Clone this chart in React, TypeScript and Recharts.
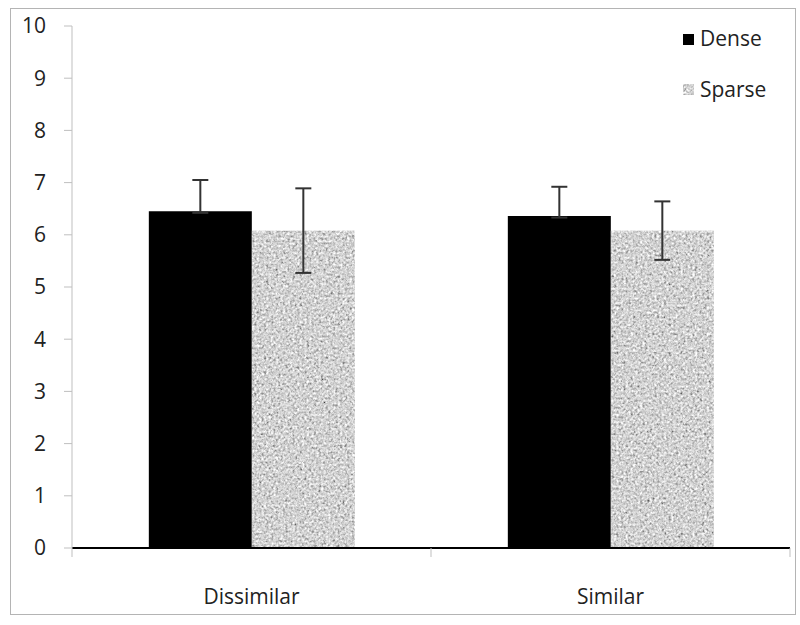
import { BarChart, Bar, XAxis, YAxis, ErrorBar } from 'recharts';

const categories = ['Dissimilar', 'Similar'];
const denseMeans = [6.45, 6.36];
const denseErrors = [0.6, 0.56];
const sparseMeans = [6.08, 6.08];
const sparseErrors = [0.81, 0.56];
const yTicks = [0, 1, 2, 3, 4, 5, 6, 7, 8, 9, 10];

// dense error bar only shows above the bar; the tiny lower end sits just inside the black bar
const denseLowerHidden = 0.03;

const chartData = categories.map((name, i) => ({
  name,
  Dense: denseMeans[i],
  denseErr: [denseLowerHidden, denseErrors[i]],
  Sparse: sparseMeans[i],
  sparseErr: sparseErrors[i],
}));

const FONT = '"Open Sans", "Noto Sans", sans-serif';

function NoiseBar(props: any) {
  const { x, y, width, height } = props;
  if (!height || height <= 0) return null;
  return <rect x={x} y={y} width={width} height={height} fill="#b0b0b0" filter="url(#speckle)" />;
}

function CategoryTick(props: any) {
  const { x, y, payload, index, visibleTicksCount } = props;
  const half = payload?.offset || 179.5;
  return (
    <g>
      <line x1={x - half} y1={y - 8} x2={x - half} y2={y + 1} stroke="#bfbfbf" strokeWidth={1} />
      {index === visibleTicksCount - 1 && (
        <line x1={x + half} y1={y - 8} x2={x + half} y2={y + 1} stroke="#bfbfbf" strokeWidth={1} />
      )}
      <text x={x} y={y + 48} textAnchor="middle" fill="#222" fontSize={21} fontFamily={FONT}>
        {payload.value}
      </text>
    </g>
  );
}

export default function App() {
  return (
    <div style={{ position: 'absolute', left: 0, top: 0, width: 800, height: 625, background: '#fff' }}>
      <BarChart
        width={800}
        height={625}
        data={chartData}
        margin={{ top: 26, right: 10, left: 0, bottom: 27 }}
        barCategoryGap="21.4%"
        barGap={0}
      >
        <defs>
          <filter id="speckle" x="0" y="0" width="100%" height="100%">
            <feTurbulence type="fractalNoise" baseFrequency="0.42" numOctaves="2" seed="7" result="n" />
            <feColorMatrix
              in="n"
              type="matrix"
              values="0.33 0.33 0.33 0 0  0.33 0.33 0.33 0 0  0.33 0.33 0.33 0 0  0 0 0 0 1"
              result="g"
            />
            <feComponentTransfer in="g" result="c">
              <feFuncR type="linear" slope="2.1" intercept="-0.4" />
              <feFuncG type="linear" slope="2.1" intercept="-0.4" />
              <feFuncB type="linear" slope="2.1" intercept="-0.4" />
            </feComponentTransfer>
            <feComposite in="c" in2="SourceGraphic" operator="in" />
          </filter>
        </defs>
        <XAxis
          dataKey="name"
          height={50}
          axisLine={{ stroke: '#000', strokeWidth: 2 }}
          tickLine={false}
          tick={<CategoryTick />}
          interval={0}
        />
        <YAxis
          width={72}
          domain={[0, 10]}
          ticks={yTicks}
          interval={0}
          axisLine={{ stroke: '#bfbfbf' }}
          tickLine={{ stroke: '#bfbfbf' }}
          tickSize={8}
          tickMargin={18}
          tick={{ fill: '#222', fontSize: 21, fontFamily: FONT }}
        />
        <Bar dataKey="Dense" fill="#000" isAnimationActive={false}>
          <ErrorBar dataKey="denseErr" width={8} stroke="#333" strokeWidth={2} isAnimationActive={false} />
        </Bar>
        <Bar dataKey="Sparse" fill="#b0b0b0" shape={<NoiseBar />} isAnimationActive={false}>
          <ErrorBar dataKey="sparseErr" width={8} stroke="#333" strokeWidth={2} isAnimationActive={false} />
        </Bar>
      </BarChart>
      <svg
        width={120}
        height={80}
        style={{ position: 'absolute', left: 682, top: 28, overflow: 'visible' }}
      >
        <rect x={1} y={6} width={11} height={11} fill="#000" />
        <text x={18} y={18} fontSize={21} fontFamily={FONT} fill="#222">Dense</text>
        <rect x={1} y={56} width={11} height={11} fill="#b0b0b0" filter="url(#speckle)" />
        <text x={18} y={69} fontSize={21} fontFamily={FONT} fill="#222">Sparse</text>
      </svg>
      <div
        style={{
          position: 'absolute',
          left: 10,
          top: 8,
          width: 784,
          height: 605,
          border: '1.5px solid #b4b4b4',
          pointerEvents: 'none',
        }}
      />
    </div>
  );
}
